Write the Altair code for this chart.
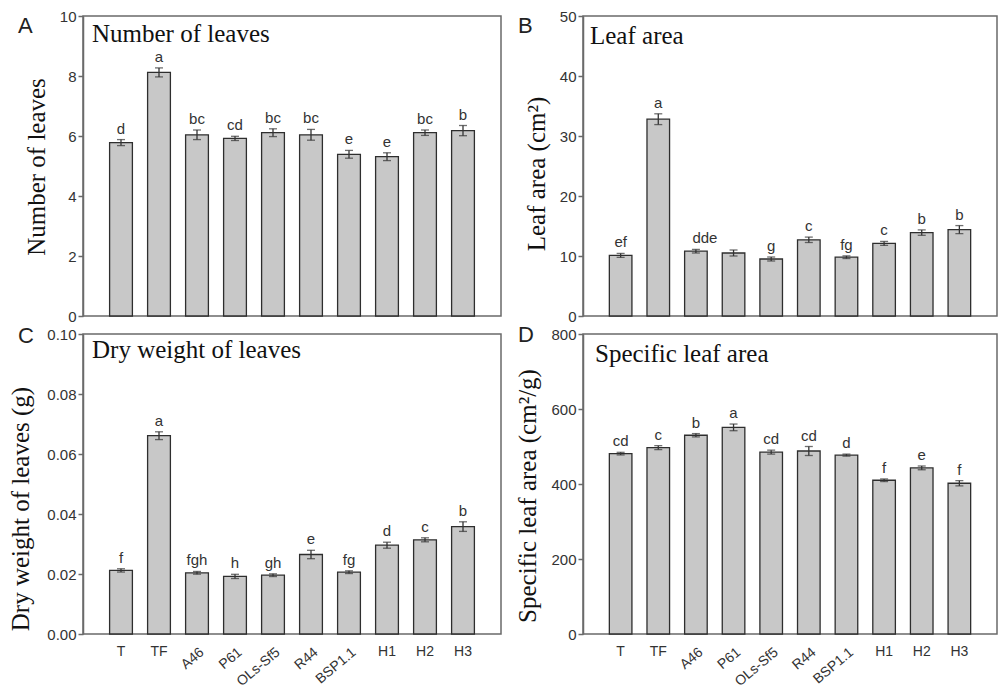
import altair as alt
import pandas as pd

categories = ["T", "TF", "A46", "P61", "OLs-Sf5", "R44", "BSP1.1", "H1", "H2", "H3"]
rotated_labels = ["A46", "P61", "OLs-Sf5", "R44", "BSP1.1"]

leaves_mean = [5.78, 8.12, 6.04, 5.92, 6.11, 6.04, 5.39, 5.31, 6.11, 6.18]
leaves_err = [0.10, 0.15, 0.16, 0.07, 0.13, 0.18, 0.13, 0.13, 0.09, 0.17]
leaves_letters = ["d", "a", "bc", "cd", "bc", "bc", "e", "e", "bc", "b"]

area_mean = [10.1, 32.8, 10.8, 10.5, 9.5, 12.7, 9.8, 12.1, 13.9, 14.4]
area_err = [0.33, 0.9, 0.3, 0.5, 0.33, 0.45, 0.22, 0.33, 0.45, 0.67]
area_letters = ["ef", "a", "dde", "", "g", "c", "fg", "c", "b", "b"]

dw_mean = [0.0212, 0.0661, 0.0204, 0.0192, 0.0196, 0.0265, 0.0206, 0.0296, 0.0314, 0.0358]
dw_err = [0.00055, 0.0013, 0.00045, 0.0007, 0.00045, 0.0014, 0.00045, 0.001, 0.00067, 0.0016]
dw_letters = ["f", "a", "fgh", "h", "gh", "e", "fg", "d", "c", "b"]

sla_mean = [481, 497, 530, 551, 485, 488, 477, 410, 443, 402]
sla_err = [3.5, 5.3, 4.4, 8.9, 5.3, 12, 2.7, 3.5, 5, 7]
sla_letters = ["cd", "c", "b", "a", "cd", "cd", "d", "f", "e", "f"]

H = 300
SERIF = "Liberation Serif"
SANS = "Liberation Sans"
DARK = "#333333"
AXIS = "#6a6a6a"


def panel(mean, err, letters, ymax, yvals, fmt, title, ytitle, letter,
          width, show_x, letter_y, ytitle_x, ytitle_y, title_x, title_y):
    df = pd.DataFrame({
        "cat": categories,
        "mean": mean,
        "lo": [m - e for m, e in zip(mean, err)],
        "hi": [m + e for m, e in zip(mean, err)],
        "letter": letters,
    })
    xscale = alt.Scale(domain=categories, paddingInner=0.4, paddingOuter=0.7)
    x_axis = alt.X("cat:N", sort=categories, scale=xscale,
                   axis=alt.Axis(title=None, labels=False, ticks=True, tickSize=5,
                                 domain=True))
    x_noaxis = alt.X("cat:N", sort=categories, scale=xscale, axis=None)
    yscale = alt.Scale(domain=[0, ymax], nice=False, zero=True)
    y_axis = alt.Y("mean:Q", scale=yscale,
                   axis=alt.Axis(title=None, values=yvals, format=fmt, tickSize=5,
                                 labelPadding=2, grid=False))
    base = alt.Chart(df)
    bars = base.mark_bar(color="#c8c8c8", stroke="#2e2e2e", strokeWidth=1.3).encode(
        x=x_axis, y=y_axis)
    rule = base.mark_rule(color=DARK, strokeWidth=1.3).encode(
        x=x_noaxis, y=alt.Y("lo:Q", scale=yscale), y2="hi:Q")
    cap_lo = base.mark_tick(color=DARK, size=8, thickness=1.3).encode(
        x=x_noaxis, y=alt.Y("lo:Q", scale=yscale))
    cap_hi = base.mark_tick(color=DARK, size=8, thickness=1.3).encode(
        x=x_noaxis, y=alt.Y("hi:Q", scale=yscale))
    lett = base.transform_filter(alt.datum.letter != "dde").mark_text(
        font=SANS, fontSize=15, color=DARK, baseline="alphabetic", dy=-6).encode(
        x=x_noaxis, y=alt.Y("hi:Q", scale=yscale), text="letter:N")
    lett2 = base.transform_filter(alt.datum.letter == "dde").mark_text(
        font=SANS, fontSize=15, color=DARK, baseline="alphabetic", dy=-6, dx=9).encode(
        x=x_noaxis, y=alt.Y("hi:Q", scale=yscale), text="letter:N")

    tdf = pd.DataFrame({"t": [title], "yt": [ytitle], "l": [letter]})
    tbase = alt.Chart(tdf)
    ttl = tbase.mark_text(font=SERIF, fontSize=25, color="#111111", align="left",
                          baseline="alphabetic").encode(
        x=alt.value(title_x), y=alt.value(title_y), text="t:N")
    yttl = tbase.mark_text(font=SERIF, fontSize=25, color="#111111", align="center",
                           baseline="alphabetic", angle=270).encode(
        x=alt.value(ytitle_x), y=alt.value(ytitle_y), text="yt:N")
    plet = tbase.mark_text(font=SANS, fontSize=22, color="#222222", align="left",
                           baseline="alphabetic").encode(
        x=alt.value(-65), y=alt.value(letter_y), text="l:N")

    layers = [bars, rule, cap_lo, cap_hi, lett, lett2, ttl, yttl, plet]
    if show_x:
        xl_h = base.transform_filter(
            ~alt.FieldOneOfPredicate(field="cat", oneOf=rotated_labels)).mark_text(
            font=SANS, fontSize=14, color=DARK, baseline="top", align="center").encode(
            x=x_noaxis, y=alt.value(H + 11), text="cat:N")
        xl_r = base.transform_filter(
            alt.FieldOneOfPredicate(field="cat", oneOf=rotated_labels)).mark_text(
            font=SANS, fontSize=14, color=DARK, baseline="top", align="right",
            angle=320, dx=1).encode(
            x=x_noaxis, y=alt.value(H + 12), text="cat:N")
        layers += [xl_h, xl_r]
    return alt.layer(*layers).properties(width=width, height=H)


pA = panel(leaves_mean, leaves_err, leaves_letters, 10, [0, 2, 4, 6, 8, 10], "d",
           "Number of leaves", "Number of leaves", "A", 418, False,
           17, -38, 151, 9, 26)
pB = panel(area_mean, area_err, area_letters, 50, [0, 10, 20, 30, 40, 50], "d",
           "Leaf area", "Leaf area (cm²)", "B", 414, False,
           17, -38, 158, 7, 28)
pC = panel(dw_mean, dw_err, dw_letters, 0.10, [0, 0.02, 0.04, 0.06, 0.08, 0.10], ".2f",
           "Dry weight of leaves", "Dry weight of leaves (g)", "C", 418, True,
           9, -54, 175, 9, 24)
pD = panel(sla_mean, sla_err, sla_letters, 800, [0, 200, 400, 600, 800], "d",
           "Specific leaf area", "Specific leaf area (cm²/g)", "D", 414, True,
           8, -47, 162, 12, 28)

chart = alt.concat(pA, pB, pC, pD, columns=2).properties(
    spacing={"row": 18, "column": 82},
    bounds="flush",
    align="each",
    padding={"left": 8, "top": 8, "right": 0, "bottom": 0},
).configure_view(
    stroke=AXIS, strokeWidth=1.5
).configure_axis(
    domainColor=AXIS, domainWidth=1.5, tickColor=AXIS, tickWidth=1.5,
    labelColor=DARK, labelFont=SANS, labelFontSize=15
)

chart.save("out.html", embed_options={"renderer": "svg", "actions": False})
